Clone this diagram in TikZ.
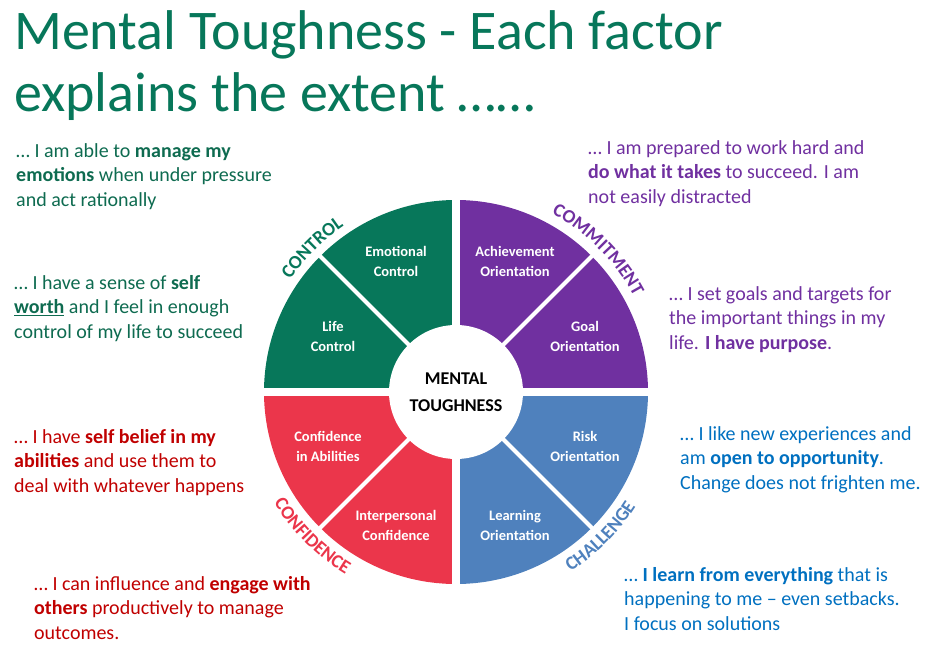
\documentclass[tikz,border=0pt]{standalone}
\usepackage{fontspec}
\setmainfont{Carlito}
\usetikzlibrary{decorations.text}
\definecolor{ctrlgreen}{HTML}{07775A}
\definecolor{commpurple}{HTML}{7030A0}
\definecolor{confred}{HTML}{EB364B}
\definecolor{challblue}{HTML}{4F81BD}
\definecolor{txtgreen}{HTML}{0E6B50}
\definecolor{txtred}{HTML}{C00000}
\definecolor{txtblue}{HTML}{0070C0}
\tikzset{
  desc/.style = {anchor=north west, align=left, inner sep=0pt,
                 font=\fontsize{20}{24.5}\selectfont},
  factor/.style = {align=center, text=white, inner sep=0pt,
                   font=\bfseries\fontsize{14.5}{20}\selectfont},
  gap/.style = {white, line width=8pt},
  split/.style = {white, line width=4pt}
}
\begin{document}
\begin{tikzpicture}[x=1pt,y=-1pt]
  \useasboundingbox (0,0) rectangle (941,658);
  % title
  \node (title) [anchor=west, inner sep=0pt, text=ctrlgreen,
        font=\fontsize{56}{62}\selectfont, align=left] at (14,66)
        {Mental Toughness - Each factor\\explains the extent \dots\dots};
  % wheel
  \begin{scope}[shift={(456,392)}, y=1pt]
    \coordinate (O) at (0,0);
    \fill[ctrlgreen]  (O) -- (180:192) arc[start angle=180,end angle=90,radius=192] -- cycle;
    \fill[commpurple] (O) -- (90:192) arc[start angle=90,end angle=0,radius=192] -- cycle;
    \fill[challblue]  (O) -- (0:192) arc[start angle=0,end angle=-90,radius=192] -- cycle;
    \fill[confred]    (O) -- (270:192) arc[start angle=270,end angle=180,radius=192] -- cycle;
    \draw[gap] (-200,0) -- (200,0);
    \draw[gap] (0,-200) -- (0,200);
    \foreach \a in {45,135,225,315}
      \draw[split] (O) -- (\a:200);
    \fill[white] (O) circle[radius=67];
    \node (centre) [align=center, inner sep=0pt,
          font=\bfseries\fontsize{18}{27}\selectfont] at (O) {MENTAL\\TOUGHNESS};
    % curved labels
    \path[decorate, decoration={text along path, text align=center,
          text={|\bfseries\fontsize{19}{20}\selectfont\color{ctrlgreen}|CONTROL}}]
          (160:200) arc[start angle=160,end angle=110,radius=200];
    \path[decorate, decoration={text along path, text align=center,
          text={|\bfseries\fontsize{19}{20}\selectfont\color{commpurple}|COMMITMENT}}]
          (80:202) arc[start angle=80,end angle=10,radius=202];
    \path[decorate, decoration={text along path, text align=center,
          text={|\bfseries\fontsize{19}{20}\selectfont\color{confred}|CONFIDENCE}}]
          (190:213) arc[start angle=190,end angle=260,radius=213];
    \path[decorate, decoration={text along path, text align=center,
          text={|\bfseries\fontsize{19}{20}\selectfont\color{challblue}|CHALLENGE}}]
          (280:213) arc[start angle=280,end angle=350,radius=213];
  \end{scope}
  % factors
  \node (emo)  [factor] at (396,261) {Emotional\\Control};
  \node (ach)  [factor] at (515,261) {Achievement\\Orientation};
  \node (life) [factor] at (333,336) {Life\\Control};
  \node (goal) [factor] at (585,336) {Goal\\Orientation};
  \node (abil) [factor] at (328,446) {Confidence\\in Abilities};
  \node (inter)[factor] at (396,525) {Interpersonal\\Confidence};
  \node (risk) [factor] at (585,446) {Risk\\Orientation};
  \node (learn)[factor] at (515,525) {Learning\\Orientation};
  % descriptions
  \node (d1) [desc, text=txtgreen] at (16,143)
    {\dots{} I am able to \textbf{manage my}\\\textbf{emotions} when under pressure\\and act rationally};
  \node (d2) [desc, text=txtgreen] at (14,275)
    {\dots{} I have a sense of \textbf{self}\\\underline{\textbf{worth}} and I feel in enough\\control of my life to succeed};
  \node (d3) [desc, text=txtred] at (14,429)
    {\dots{} I have \textbf{self belief in my}\\\textbf{abilities} and use them to\\deal with whatever happens};
  \node (d4) [desc, text=txtred] at (34,576)
    {\dots{} I can influence and \textbf{engage with}\\\textbf{others} productively to manage\\outcomes.};
  \node (d5) [desc, text=commpurple] at (588,140)
    {\dots{} I am prepared to work hard and\\\textbf{do what it takes} to succeed. I am\\not easily distracted};
  \node (d6) [desc, text=commpurple] at (669,286)
    {\dots{} I set goals and targets for\\the important things in my\\life. \textbf{I have purpose}.};
  \node (d7) [desc, text=txtblue] at (680,426)
    {\dots{} I like new experiences and\\am \textbf{open to opportunity}.\\Change does not frighten me.};
  \node (d8) [desc, text=txtblue] at (624,567)
    {\dots{} \textbf{I learn from everything} that is\\happening to me -- even setbacks.\\I focus on solutions};
\end{tikzpicture}
\end{document}
